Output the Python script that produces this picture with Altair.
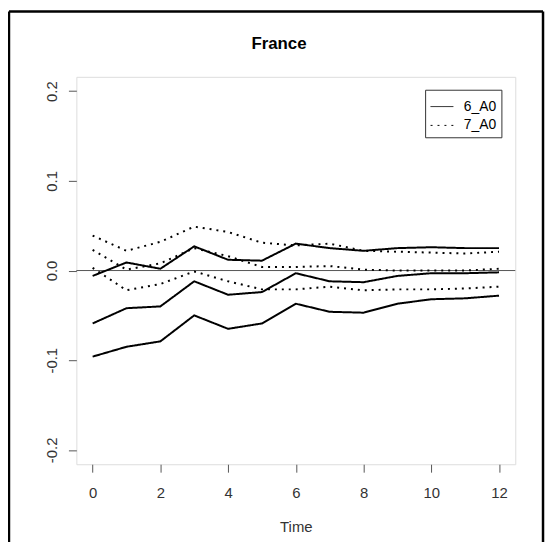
import altair as alt
import pandas as pd

time = list(range(13))
a6_upper = [-0.006, 0.009, 0.002, 0.027, 0.012, 0.011, 0.030, 0.025, 0.022, 0.025, 0.026, 0.025, 0.025]
a6_mid = [-0.059, -0.042, -0.040, -0.012, -0.027, -0.024, -0.003, -0.012, -0.013, -0.006, -0.003, -0.003, -0.002]
a6_lower = [-0.096, -0.085, -0.079, -0.050, -0.065, -0.059, -0.037, -0.046, -0.047, -0.037, -0.032, -0.031, -0.028]
a7_upper = [0.039, 0.022, 0.032, 0.049, 0.043, 0.031, 0.028, 0.030, 0.022, 0.021, 0.020, 0.019, 0.021]
a7_mid = [0.023, 0.001, 0.008, 0.025, 0.016, 0.004, 0.004, 0.005, 0.001, 0.000, 0.000, 0.000, 0.002]
a7_lower = [0.003, -0.022, -0.015, -0.001, -0.012, -0.021, -0.021, -0.018, -0.022, -0.021, -0.021, -0.020, -0.018]
series_labels = ["6_A0", "7_A0"]
x_ticks = [0, 2, 4, 6, 8, 10, 12]
y_ticks = [-0.2, -0.1, 0.0, 0.1, 0.2]

rows = []
for name, band, vals in [
    ("6_A0", "upper", a6_upper), ("6_A0", "mid", a6_mid), ("6_A0", "lower", a6_lower),
    ("7_A0", "upper", a7_upper), ("7_A0", "mid", a7_mid), ("7_A0", "lower", a7_lower),
]:
    for t, v in zip(time, vals):
        rows.append({"Time": t, "value": v, "series": name, "band": name + band})
df = pd.DataFrame(rows)

FONT = "Liberation Sans"
FRAME = "#555555"

lines = alt.Chart(df).mark_line(color="black", strokeWidth=2).encode(
    x=alt.X("Time:Q",
            scale=alt.Scale(domain=[-0.48, 12.48], nice=False, zero=False),
            axis=alt.Axis(values=x_ticks, title="Time", grid=False, domain=False,
                          tickSize=8, tickColor=FRAME, labelFontSize=15, labelFont=FONT,
                          labelColor="#333333", labelBaseline="alphabetic", labelPadding=25.5,
                          titleFont=FONT, titleFontSize=15, titleFontWeight="normal",
                          titleColor="#333333", titleBaseline="alphabetic", titleY=68)),
    y=alt.Y("value:Q",
            scale=alt.Scale(domain=[-0.216, 0.216], nice=False, zero=False),
            axis=alt.Axis(values=y_ticks, title=None, grid=False, domain=False,
                          tickSize=8, tickColor=FRAME, labelFontSize=15, labelFont=FONT,
                          labelColor="#333333", labelAngle=270, labelAlign="center",
                          labelBaseline="alphabetic", labelPadding=12,
                          labelExpr="datum.value == 0 ? '0.0' : (datum.value < 0 ? '-' + format(-datum.value, '.1f') : format(datum.value, '.1f'))")),
    strokeDash=alt.StrokeDash("series:N",
                              scale=alt.Scale(domain=series_labels, range=[[1, 0], [2, 5]]),
                              legend=alt.Legend(orient="none", legendX=352, legendY=13, title=None,
                                                strokeColor="#333333", fillColor="white", padding=5,
                                                symbolType="stroke", symbolSize=529,
                                                symbolStrokeWidth=1, symbolStrokeColor="black",
                                                labelFontSize=14, labelFont=FONT, labelColor="black",
                                                rowPadding=-7, labelOffset=10)),
    detail="band:N",
)

zero = alt.Chart(alt.Data(values=[{"v": 0}])).mark_rule(color=FRAME, strokeWidth=1).encode(
    y=alt.Y("v:Q")
)

one = alt.Data(values=[{}])
border_left = alt.Chart(one).mark_rule(color="black", strokeWidth=2.5).encode(
    x=alt.value(-68), y=alt.value(-66), y2=alt.value(480))
border_top = alt.Chart(one).mark_rule(color="black", strokeWidth=2.5).encode(
    x=alt.value(-68), x2=alt.value(471), y=alt.value(-66))
border_right = alt.Chart(one).mark_rule(color="black", strokeWidth=2.5).encode(
    x=alt.value(471), y=alt.value(-66), y2=alt.value(480))

chart = alt.layer(zero, lines, border_left, border_top, border_right).properties(
    width=443, height=391,
    padding={"left": 69, "top": 67, "right": 30, "bottom": 76},
    autosize=alt.AutoSizeParams(type="none"),
    title=alt.TitleParams(text="France", font=FONT, fontSize=17, fontWeight="bold",
                          color="black", anchor="middle", dx=-17, baseline="alphabetic",
                          offset=0, dy=56, frame="group"),
).configure_view(stroke=FRAME, strokeWidth=1).configure(background="white")

chart.save("out.html", embed_options={"renderer": "svg", "actions": False})
